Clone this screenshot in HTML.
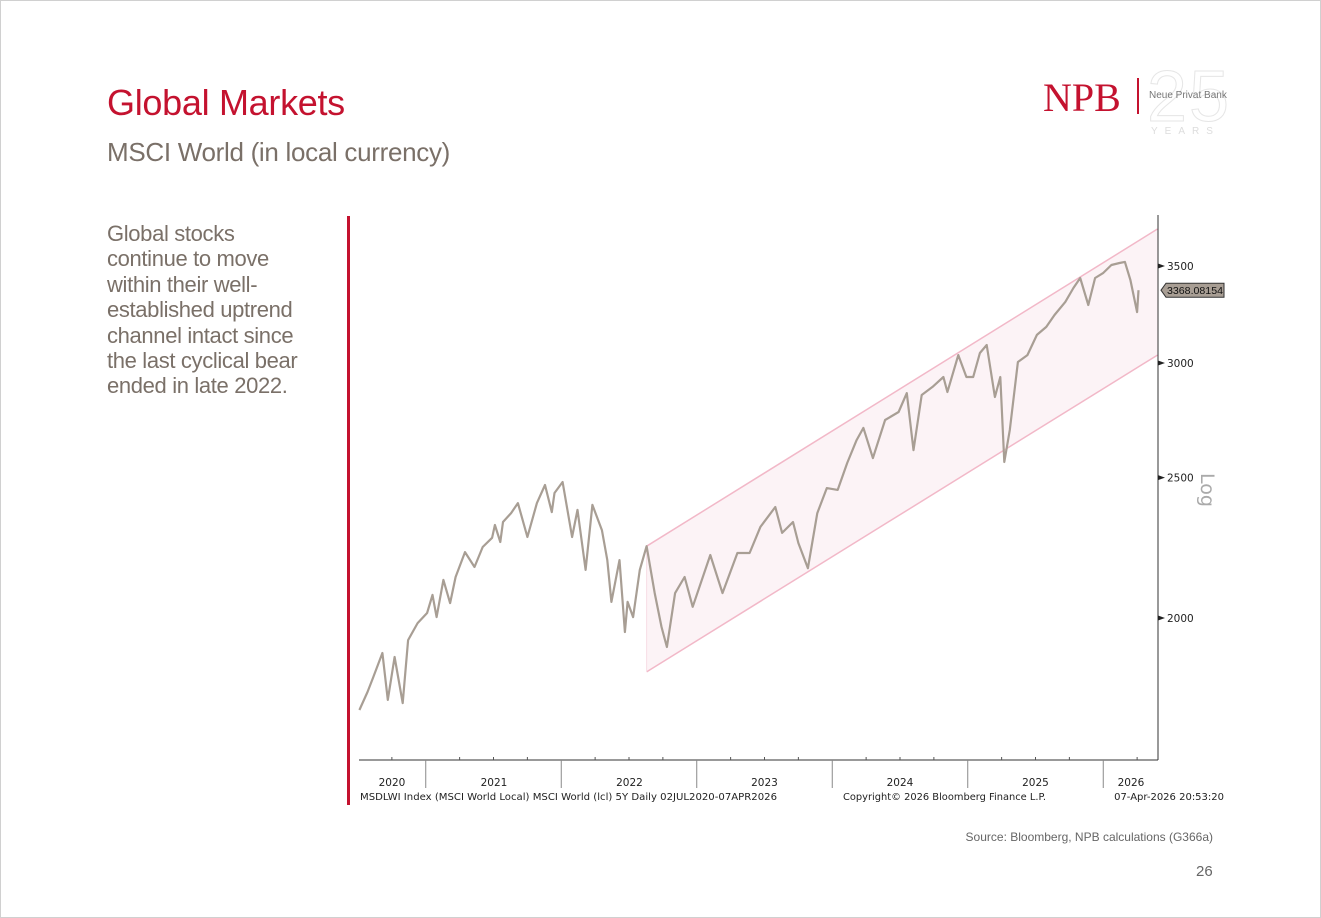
<!DOCTYPE html>
<html><head><meta charset="utf-8">
<style>
body{margin:0;background:#fff;}
#page{position:relative;width:1319px;height:916px;border:1px solid #d0d0d0;overflow:hidden;font-family:"Liberation Sans",sans-serif;}
.t{position:absolute;white-space:nowrap;}
</style></head>
<body>
<div id="page">
<div class="t" style="left:106px;top:81px;font-size:36px;color:#c4122f;letter-spacing:-0.3px;">Global Markets</div>
<div class="t" style="left:106px;top:136px;font-size:26px;color:#7a7068;letter-spacing:-0.3px;">MSCI World (in local currency)</div>
<div class="t" style="left:106px;top:220px;font-size:22px;line-height:25.4px;color:#7a7068;white-space:normal;width:220px;letter-spacing:-0.35px;">Global stocks<br>continue to move<br>within their well-<br>established uptrend<br>channel intact since<br>the last cyclical bear<br>ended in late 2022.</div>
<div style="position:absolute;left:1040px;top:65px;width:190px;height:75px;">
  <div class="t" style="left:2px;top:8px;font-family:'Liberation Serif',serif;font-size:40px;color:#c4122f;">NPB</div>
  <div style="position:absolute;left:96px;top:12px;width:2px;height:36px;background:#c4122f;"></div>
  <div class="t" style="left:106px;top:-10px;font-size:72px;color:#fff;-webkit-text-stroke:1px #e6e6e6;letter-spacing:2px;">25</div>
  <div class="t" style="left:108px;top:24px;font-size:10px;color:#777;">Neue Privat Bank</div>
  <div class="t" style="left:110px;top:60px;font-size:10px;color:#ddd;letter-spacing:7px;">YEARS</div>
</div>
<div style="position:absolute;left:346px;top:215px;width:3px;height:589px;background:#c4122f;"></div>
<svg id="chart" width="1321" height="918" style="position:absolute;left:-1px;top:-1px;" font-family="'DejaVu Sans',Verdana,sans-serif"></svg>
<div class="t" style="right:107px;top:829px;font-size:12px;color:#666;">Source: Bloomberg, NPB calculations (G366a)</div>
<div class="t" style="left:1195px;top:862px;font-size:15px;color:#666;">26</div>
</div>
<script>
const dates=[2020.51,2020.57,2020.61,2020.68,2020.72,2020.77,2020.83,2020.87,2020.94,2021.01,2021.05,2021.08,2021.13,2021.18,2021.22,2021.29,2021.36,2021.42,2021.49,2021.51,2021.55,2021.57,2021.63,2021.68,2021.75,2021.82,2021.88,2021.93,2021.95,2022.01,2022.08,2022.12,2022.18,2022.23,2022.30,2022.34,2022.37,2022.43,2022.47,2022.49,2022.53,2022.58,2022.63,2022.69,2022.74,2022.78,2022.84,2022.91,2022.97,2023.10,2023.19,2023.30,2023.39,2023.47,2023.58,2023.63,2023.71,2023.75,2023.82,2023.89,2023.96,2024.04,2024.11,2024.18,2024.23,2024.30,2024.39,2024.49,2024.55,2024.60,2024.66,2024.74,2024.82,2024.85,2024.93,2024.99,2025.04,2025.09,2025.14,2025.20,2025.24,2025.27,2025.31,2025.37,2025.44,2025.51,2025.58,2025.64,2025.72,2025.78,2025.83,2025.89,2025.94,2026.00,2026.06,2026.12,2026.16,2026.20,2026.25,2026.26];
const values=[1728,1778,1818,1892,1756,1880,1747,1931,1984,2016,2075,2003,2125,2048,2135,2221,2169,2239,2272,2319,2257,2330,2363,2401,2275,2401,2471,2367,2440,2483,2275,2375,2159,2394,2300,2193,2052,2193,1956,2052,2003,2159,2242,2081,1972,1910,2081,2135,2036,2211,2081,2218,2218,2312,2386,2290,2330,2253,2165,2363,2459,2452,2559,2654,2706,2579,2740,2775,2860,2612,2851,2888,2934,2865,3038,2934,2934,3048,3087,2842,2934,2563,2697,3005,3038,3137,3177,3238,3306,3380,3434,3290,3434,3462,3506,3517,3523,3423,3253,3368.08];
const channelDates=[2022.63,2026.40];
const channelUpper=[2242,3712];
const channelLower=[1836,3038];
const yTicks=[2000,2500,3000,3500];
const yearLabels=["2020","2021","2022","2023","2024","2025","2026"];
const yearStarts=[2021,2022,2023,2024,2025,2026];
const lastValue=3368.08154;

const NS="http://www.w3.org/2000/svg";
const svg=document.getElementById('chart');
const X0=359,X1=1158,Y0=760,YTOP=215;
function xS(t){return 358+(t-2020.5)*135.5;}
function yS(v){return 363-629*Math.log(v/3000);}
function mk(tag,attrs){const e=document.createElementNS(NS,tag);for(const k in attrs)e.setAttribute(k,attrs[k]);svg.appendChild(e);return e;}

let cp=mk('polygon',{points:`${xS(channelDates[0])},${yS(channelUpper[0])} ${xS(channelDates[1])},${yS(channelUpper[1])} ${xS(channelDates[1])},${yS(channelLower[1])} ${xS(channelDates[0])},${yS(channelLower[0])}`,fill:'#fcf3f6',stroke:'none'});


let cu=mk('line',{x1:xS(channelDates[0]),y1:yS(channelUpper[0]),x2:xS(channelDates[1]),y2:yS(channelUpper[1]),stroke:'#f2b8c8','stroke-width':1.5});


let cl=mk('line',{x1:xS(channelDates[0]),y1:yS(channelLower[0]),x2:xS(channelDates[1]),y2:yS(channelLower[1]),stroke:'#f2b8c8','stroke-width':1.5});


let ce=mk('line',{x1:xS(channelDates[0]),y1:yS(channelUpper[0]),x2:xS(channelDates[0]),y2:yS(channelLower[0]),stroke:'#f8dde5','stroke-width':1});



let pts=dates.map((d,i)=>xS(d).toFixed(1)+','+yS(values[i]).toFixed(1)).join(' ');
let pl=mk('polyline',{points:pts,fill:'none',stroke:'#a89e94','stroke-width':2.2,'stroke-linejoin':'round'});



let ax=mk('line',{x1:X0,y1:Y0,x2:X1,y2:Y0,stroke:'#333','stroke-width':1});


let ay=mk('line',{x1:X1,y1:YTOP,x2:X1,y2:Y0,stroke:'#333','stroke-width':1});


for(let q=2020.75;q<2026.4;q+=0.25){
  if(Math.abs(q-Math.round(q))<0.01)continue;
  let tk=mk('line',{x1:xS(q),y1:Y0-3,x2:xS(q),y2:Y0,stroke:'#555','stroke-width':1});
  
  
}
yearStarts.forEach(y=>{
  let s=mk('line',{x1:xS(y),y1:Y0,x2:xS(y),y2:Y0+28,stroke:'#888','stroke-width':1});
  
  
});
const centers=[392,494,629.5,764.5,900,1035.5,1131];
yearLabels.forEach((l,i)=>{
  let t=mk('text',{x:centers[i],y:786,'font-size':10.5,fill:'#222','text-anchor':'middle'});
  t.textContent=l;
  
  
});
yTicks.forEach(v=>{
  const y=yS(v);
  let m=mk('polygon',{points:`${X1+7},${y} ${X1},${y-2.5} ${X1},${y+2.5}`,fill:'#222'});
  
  
  let t=mk('text',{x:X1+9,y:y+4,'font-size':10.5,fill:'#222'});
  t.textContent=v;
  
  
});
const ly=yS(lastValue);
let tag=mk('polygon',{points:`${X1+3},${ly} ${X1+8},${ly-7} ${1224},${ly-7} ${1224},${ly+7} ${X1+8},${ly+7}`,fill:'#a89e94',stroke:'#333','stroke-width':1});


let tt=mk('text',{x:X1+9,y:ly+4,'font-size':10.5,fill:'#111','font-family':"'Liberation Sans',sans-serif",textLength:56,lengthAdjust:'spacingAndGlyphs'});
tt.textContent=lastValue.toFixed(5);


let lg=mk('text',{x:1201,y:490,'font-size':19,fill:'#aaa',transform:'rotate(90 1201 490)','text-anchor':'middle'});
lg.textContent='Log';


let f1=mk('text',{x:360,y:800,'font-size':10,fill:'#222',textLength:417,lengthAdjust:'spacingAndGlyphs'});
f1.textContent='MSDLWI Index (MSCI World Local) MSCI World (lcl) 5Y Daily 02JUL2020-07APR2026';


let f2=mk('text',{x:843,y:800,'font-size':10,fill:'#222',textLength:203,lengthAdjust:'spacingAndGlyphs'});
f2.textContent='Copyright\u00A9 2026 Bloomberg Finance L.P.';


let f3=mk('text',{x:1224,y:800,'font-size':10,fill:'#222','text-anchor':'end'});
f3.textContent='07-Apr-2026 20:53:20';


</script>
</body></html>
